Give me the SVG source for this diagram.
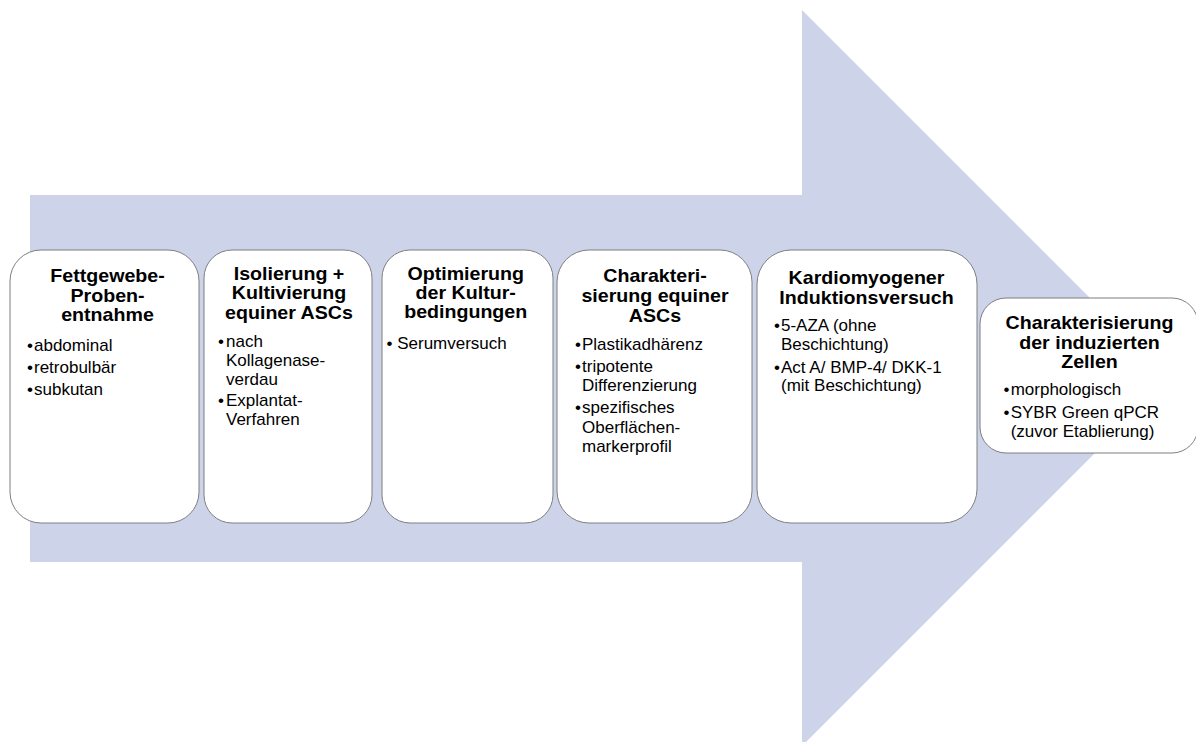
<svg xmlns="http://www.w3.org/2000/svg" width="1196" height="742" viewBox="0 0 1196 742">
<style>
.box{fill:#ffffff;stroke:#7f7f7f;stroke-width:1}
.t{font-family:"Liberation Sans",Arial,sans-serif;font-weight:bold;font-size:18px;fill:#000;text-anchor:middle}
.b{font-family:"Liberation Sans",Arial,sans-serif;font-size:17px;fill:#000}
</style>
<rect width="1196" height="742" fill="#ffffff"/>
<g id="connectors">
<polygon id="arrow" points="30,195 802,195 802,10 1170,378 802,746 802,562 30,562" fill="#cdd4ea"/>
</g>
<g id="node1">
<rect class="box" x="10" y="250" width="189" height="273" rx="31" ry="31"/>
<text class="t" transform="translate(107.5 282) scale(1.09 1)">Fettgewebe-</text>
<text class="t" transform="translate(107.5 301.5) scale(1.09 1)">Proben-</text>
<text class="t" transform="translate(107.5 321) scale(1.09 1)">entnahme</text>
<text class="b" x="27" y="350.5">•</text><text class="b" x="34" y="350.5">abdominal</text>
<text class="b" x="27" y="373">•</text><text class="b" x="34" y="373">retrobulbär</text>
<text class="b" x="27" y="395">•</text><text class="b" x="34" y="395">subkutan</text>
</g>
<g id="node2">
<rect class="box" x="204" y="250" width="168" height="273" rx="28" ry="28"/>
<text class="t" transform="translate(289 279.5) scale(1.09 1)">Isolierung +</text>
<text class="t" transform="translate(289 299) scale(1.09 1)">Kultivierung</text>
<text class="t" transform="translate(289 318.5) scale(1.09 1)">equiner ASCs</text>
<text class="b" x="218" y="347">•</text><text class="b" x="226" y="347">nach</text>
<text class="b" x="226" y="366">Kollagenase-</text>
<text class="b" x="226" y="385">verdau</text>
<text class="b" x="218" y="406">•</text><text class="b" x="226" y="406">Explantat-</text>
<text class="b" x="226" y="425">Verfahren</text>
</g>
<g id="node3">
<rect class="box" x="382" y="250" width="171" height="273" rx="28" ry="28"/>
<text class="t" transform="translate(465.7 279.5) scale(1.09 1)">Optimierung</text>
<text class="t" transform="translate(465.7 298.5) scale(1.09 1)">der Kultur-</text>
<text class="t" transform="translate(465.7 318) scale(1.09 1)">bedingungen</text>
<text class="b" x="386.5" y="348.5">• Serumversuch</text>
</g>
<g id="node4">
<rect class="box" x="557" y="250" width="195" height="273" rx="32" ry="32"/>
<text class="t" transform="translate(655 282.3) scale(1.09 1)">Charakteri-</text>
<text class="t" transform="translate(655 302) scale(1.09 1)">sierung equiner</text>
<text class="t" transform="translate(655 321.5) scale(1.09 1)">ASCs</text>
<text class="b" x="575" y="349.5">•</text><text class="b" x="582" y="349.5">Plastikadhärenz</text>
<text class="b" x="575" y="372">•</text><text class="b" x="582" y="372">tripotente</text>
<text class="b" x="582" y="391">Differenzierung</text>
<text class="b" x="575" y="413">•</text><text class="b" x="582" y="413">spezifisches</text>
<text class="b" x="582" y="432.5">Oberflächen-</text>
<text class="b" x="582" y="452">markerprofil</text>
</g>
<g id="node5">
<rect class="box" x="757" y="250" width="220" height="273" rx="34" ry="34"/>
<text class="t" transform="translate(866.5 284) scale(1.09 1)">Kardiomyogener</text>
<text class="t" transform="translate(866.5 304) scale(1.09 1)">Induktionsversuch</text>
<text class="b" x="774" y="331">•</text><text class="b" x="781" y="331">5-AZA (ohne</text>
<text class="b" x="781" y="350">Beschichtung)</text>
<text class="b" x="774" y="372.5">•</text><text class="b" x="781" y="372.5">Act A/ BMP-4/ DKK-1</text>
<text class="b" x="781" y="391">(mit Beschichtung)</text>
</g>
<g id="node6">
<rect class="box" x="980" y="298" width="218" height="155" rx="26" ry="26"/>
<text class="t" transform="translate(1089.5 329) scale(1.09 1)">Charakterisierung</text>
<text class="t" transform="translate(1089.5 348.5) scale(1.09 1)">der induzierten</text>
<text class="t" transform="translate(1089.5 368) scale(1.09 1)">Zellen</text>
<text class="b" x="1003.5" y="395">•</text><text class="b" x="1010.7" y="395">morphologisch</text>
<text class="b" x="1003.5" y="418">•</text><text class="b" x="1010.7" y="418">SYBR Green qPCR</text>
<text class="b" x="1010.7" y="437">(zuvor Etablierung)</text>
</g>
</svg>
